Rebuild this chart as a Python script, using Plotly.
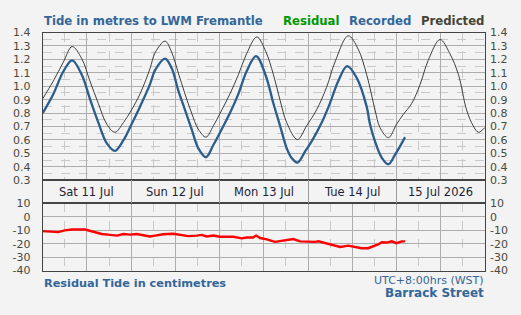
import datetime as dt
import plotly.graph_objects as go

# ---------------- data ----------------
START = dt.datetime(2026, 7, 11, 0, 0)
END = dt.datetime(2026, 7, 16, 0, 0)

# Predicted tide (m); hours since Sat 11 Jul 00:00
pred_hours = [0, 2.9, 5.6, 8.0, 10.6, 12.8, 15.1, 17.4, 19.6, 21.9, 24.1, 26.4,
              29.1, 30.5, 33.2, 35.0, 36.8, 38.6, 40.4, 42.2, 44.3, 46.3, 48.6,
              50.8, 53.1, 55.3, 58.1, 60.5, 62.6, 64.4, 66.2, 69.1, 71.6, 74.3,
              77.0, 79.3, 82.9, 85.6, 87.9, 90.2, 91.5, 93.8, 96.0, 97.8, 100.1,
              102.4, 104.6, 107.8, 110.5, 112.8, 115.0, 116.8, 118.2, 120.0]
pred_values = [0.907, 1.04, 1.18, 1.296, 1.205, 1.04, 0.871, 0.717, 0.657, 0.729,
               0.824, 0.943, 1.13, 1.25, 1.336, 1.253, 1.098, 0.943, 0.80, 0.681,
               0.621, 0.705, 0.824, 0.943, 1.086, 1.241, 1.367, 1.26, 1.086, 0.896,
               0.729, 0.603, 0.705, 0.824, 0.991, 1.181, 1.376, 1.276, 1.086, 0.82,
               0.693, 0.617, 0.717, 0.789, 0.871, 1.014, 1.193, 1.348, 1.241, 1.086,
               0.824, 0.705, 0.657, 0.693]

# Recorded tide (m)
rec_hours = [0, 2.9, 5.6, 8.0, 10.6, 12.8, 15.1, 17.4, 19.6, 21.9, 24.1, 26.4,
             29.1, 30.5, 33.2, 35.0, 36.8, 38.6, 40.4, 42.2, 44.3, 46.3, 48.6,
             50.8, 53.1, 55.3, 57.9, 60.5, 62.6, 64.4, 66.2, 67.5, 69.1, 71.2,
             73.4, 75.7, 77.9, 80.2, 82.6, 85.2, 87.9, 88.8, 90.2, 92.0, 93.8,
             95.6, 96.9, 98.3]
rec_values = [0.80, 0.943, 1.11, 1.193, 1.086, 0.907, 0.729, 0.574, 0.519, 0.598,
              0.717, 0.848, 1.014, 1.12, 1.205, 1.134, 0.967, 0.824, 0.681, 0.539,
              0.471, 0.562, 0.681, 0.80, 0.943, 1.11, 1.224, 1.08, 0.871, 0.705,
              0.539, 0.467, 0.431, 0.514, 0.61, 0.729, 0.871, 1.039, 1.15, 1.062,
              0.848, 0.717, 0.586, 0.467, 0.419, 0.491, 0.55, 0.621]

# Residual (cm)
res_hours = [0, 2.0, 4.2, 6.0, 7.9, 11.5, 13.7, 16.0, 18.3, 20.1, 21.9, 23.7,
             25.5, 28.2, 29.1, 30.5, 32.7, 35.4, 37.7, 39.5, 41.8, 43.1, 44.5,
             46.3, 48.1, 51.7, 54.0, 55.3, 57.1, 57.9, 59.0, 60.8, 63.0, 64.8,
             66.6, 68.0, 69.8, 71.6, 73.9, 74.8, 76.6, 78.4, 80.7, 82.9, 84.7,
             86.5, 88.3, 89.7, 91.0, 92.0, 93.3, 94.7, 96.0, 97.4, 98.3]
res_values = [-10.6, -11.1, -11.3, -10.0, -9.4, -9.4, -11.3, -12.7, -13.4, -13.9,
              -12.7, -13.2, -12.7, -13.9, -14.6, -13.9, -12.9, -12.5, -13.6, -14.3,
              -13.9, -13.4, -14.6, -13.9, -14.8, -14.8, -16.0, -15.3, -15.3, -13.9,
              -15.7, -16.7, -18.6, -17.9, -17.2, -16.5, -18.2, -18.6, -18.6, -18.2,
              -19.6, -21.0, -22.4, -21.4, -22.4, -23.3, -23.3, -21.9, -20.5, -18.9,
              -19.1, -18.2, -19.6, -18.2, -18.2]

day_labels = ["Sat 11 Jul", "Sun 12 Jul", "Mon 13 Jul", "Tue 14 Jul", "15 Jul 2026"]
top_ticks = [0.3, 0.4, 0.5, 0.6, 0.7, 0.8, 0.9, 1.0, 1.1, 1.2, 1.3, 1.4]
top_ticktext = ["0.3", "0.4", "0.5", "0.6", "0.7", "0.8", "0.9", "1.0", "1.1", "1.2", "1.3", "1.4"]
bot_ticks = [10, 0, -10, -20, -30, -40]
bot_ticktext = ["10", "0", "-10", "-20", "-30", "-40"]

# ---------------- styling ----------------
W, H = 521, 315
BG = "#f3f3f3"
FONT = "DejaVu Sans"
BLUE = "#336699"
TICKC = "#4a4a3c"
GRID = "#adadad"
GRID_MINOR = "#c9c9c9"
BORDER = "#444444"


def t(hours):
    return [START + dt.timedelta(hours=h) for h in hours]


def py(pix):
    return 1 - pix / H


X0, X1 = 42.7, 485.0
xdom = [X0 / W, X1 / W]
top_dom = [py(181.7), py(27.7)]
band_dom = [py(206.0), py(181.7)]
bot_dom = [py(276.0), py(206.0)]

fig = go.Figure()

fig.add_trace(go.Scatter(x=t(pred_hours), y=pred_values, mode="lines",
                         line=dict(color="#2b2b2b", width=0.9, shape="spline", smoothing=1.0),
                         xaxis="x", yaxis="y", hoverinfo="skip", showlegend=False))
fig.add_trace(go.Scatter(x=t(rec_hours), y=rec_values, mode="lines",
                         line=dict(color="#2c5d8c", width=2.3, shape="spline", smoothing=1.0),
                         xaxis="x", yaxis="y", hoverinfo="skip", showlegend=False))
fig.add_trace(go.Scatter(x=t(pred_hours), y=pred_values, mode="lines", opacity=0,
                         xaxis="x", yaxis="y4", hoverinfo="skip", showlegend=False))
fig.add_trace(go.Scatter(x=[START, END], y=[0, 0], mode="lines", opacity=0,
                         xaxis="x3", yaxis="y3", hoverinfo="skip", showlegend=False))
fig.add_trace(go.Scatter(x=t(res_hours), y=res_values, mode="lines",
                         line=dict(color="#ff0000", width=2.4),
                         xaxis="x2", yaxis="y2", hoverinfo="skip", showlegend=False))
fig.add_trace(go.Scatter(x=t(res_hours), y=res_values, mode="lines", opacity=0,
                         xaxis="x2", yaxis="y5", hoverinfo="skip", showlegend=False))

xcommon = dict(type="date", range=[START, END], domain=xdom,
               showticklabels=False, ticks="", zeroline=False,
               showline=True, mirror=True, linecolor=BORDER, linewidth=1)
xgrid = dict(showgrid=True, gridcolor=GRID, gridwidth=1,
             tick0=START, dtick=12 * 3600 * 1000,
             minor=dict(tick0=START, dtick=6 * 3600 * 1000, showgrid=True,
                        gridcolor=GRID_MINOR, griddash="dash", gridwidth=1))

fig.update_layout(
    width=W, height=H,
    margin=dict(l=0, r=0, t=0, b=0),
    paper_bgcolor=BG, plot_bgcolor=BG,
    font=dict(family=FONT, size=11, color=TICKC),
    xaxis=dict(**xcommon, **xgrid, anchor="y"),
    xaxis2=dict(**xcommon, **xgrid, anchor="y2", matches="x"),
    xaxis3=dict(**xcommon, anchor="y3", matches="x", showgrid=True,
                gridcolor="#9a9a9a", tick0=START, dtick=24 * 3600 * 1000),
    yaxis=dict(domain=top_dom, range=[0.3, 1.4], anchor="x",
               tickvals=top_ticks, ticktext=top_ticktext, ticks="",
               ticklabelstandoff=9, showgrid=True, gridcolor=GRID,
               minor=dict(tick0=0.35, dtick=0.1, showgrid=True,
                          gridcolor=GRID_MINOR, griddash="dash"),
               zeroline=False, showline=True, mirror=True, linecolor=BORDER,
               tickfont=dict(size=11, color=TICKC)),
    yaxis4=dict(overlaying="y", side="right", range=[0.3, 1.4], anchor="x",
                tickvals=top_ticks, ticktext=top_ticktext, ticks="",
                ticklabelstandoff=4, showgrid=False, zeroline=False,
                tickfont=dict(size=11, color=TICKC)),
    yaxis3=dict(domain=band_dom, range=[0, 1], anchor="x3", showgrid=False,
                showticklabels=False, ticks="", zeroline=False,
                showline=True, mirror=True, linecolor=BORDER),
    yaxis2=dict(domain=bot_dom, range=[-40, 10], anchor="x2",
                tickvals=bot_ticks, ticktext=bot_ticktext, ticks="",
                ticklabelstandoff=9, showgrid=True, gridcolor=GRID,
                zeroline=False, showline=True, mirror=True, linecolor=BORDER,
                tickfont=dict(size=11, color=TICKC)),
    yaxis5=dict(overlaying="y2", side="right", range=[-40, 10], anchor="x2",
                tickvals=bot_ticks, ticktext=bot_ticktext, ticks="",
                ticklabelstandoff=4, showgrid=False, zeroline=False,
                tickfont=dict(size=11, color=TICKC)),
)

ann = []
for i, lab in enumerate(day_labels):
    ann.append(dict(x=START + dt.timedelta(hours=24 * i + 12), y=0.5, xref="x3", yref="y3",
                    text=lab, showarrow=False, xanchor="center", yanchor="middle",
                    font=dict(family=FONT, size=11.5, color="#1e1e38")))

ann.append(dict(x=X0 / W, y=py(16), xref="paper", yref="paper",
                text="<b>Tide in metres to LWM Fremantle</b>", showarrow=False,
                xanchor="left", yanchor="middle", font=dict(family=FONT, size=11.7, color=BLUE)))
ann.append(dict(x=340 / W, y=py(16), xref="paper", yref="paper",
                text="<b>Residual</b>", showarrow=False, xanchor="right", yanchor="middle",
                font=dict(family=FONT, size=11.7, color="#009900")))
ann.append(dict(x=412 / W, y=py(16), xref="paper", yref="paper",
                text="<b>Recorded</b>", showarrow=False, xanchor="right", yanchor="middle",
                font=dict(family=FONT, size=11.7, color=BLUE)))
ann.append(dict(x=485 / W, y=py(16), xref="paper", yref="paper",
                text="<b>Predicted</b>", showarrow=False, xanchor="right", yanchor="middle",
                font=dict(family=FONT, size=11.7, color="#444436")))
ann.append(dict(x=X0 / W, y=py(289), xref="paper", yref="paper",
                text="<b>Residual Tide in centimetres</b>", showarrow=False,
                xanchor="left", yanchor="middle", font=dict(family=FONT, size=11.3, color=BLUE)))
ann.append(dict(x=X1 / W, y=py(286), xref="paper", yref="paper",
                text="UTC+8:00hrs (WST)", showarrow=False,
                xanchor="right", yanchor="middle", font=dict(family=FONT, size=11, color=BLUE)))
ann.append(dict(x=X1 / W, y=py(299.5), xref="paper", yref="paper",
                text="<b>Barrack Street</b>", showarrow=False,
                xanchor="right", yanchor="middle", font=dict(family=FONT, size=12, color=BLUE)))
for a in ann:
    a.setdefault("borderpad", 0)
fig.update_layout(annotations=ann)

fig.write_html("out.html")
